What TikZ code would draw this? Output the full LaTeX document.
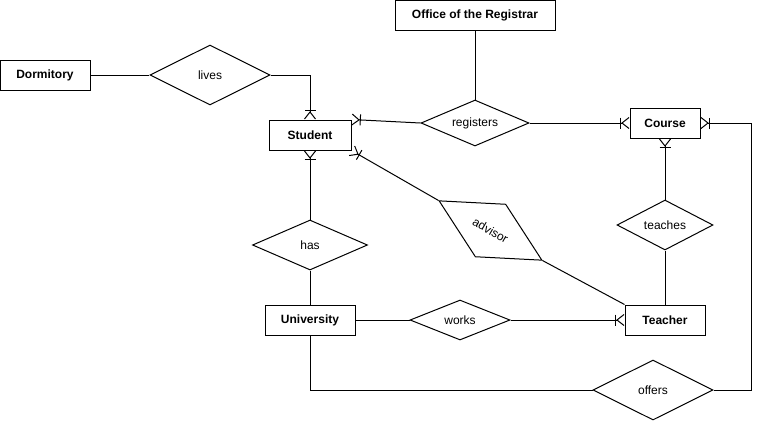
\documentclass[tikz,border=0pt]{standalone}
\usepackage{fontspec}
\setmainfont{Liberation Sans}
\usepackage{tikz}
\usetikzlibrary{positioning,arrows.meta,shapes.geometric,calc}
\tikzset{
  entity/.style={rectangle, draw=black, fill=white, line width=1pt,
    align=center, font=\fontsize{12}{14}\selectfont\bfseries, minimum height=30pt, inner sep=2pt},
  rel/.style={diamond, draw=black, fill=white, line width=1pt, shape aspect=2.3,
    align=center, font=\fontsize{12}{14}\selectfont, inner sep=0pt},
  link/.style={draw=black, line width=1pt},
  % one-or-many end (crow's foot with bar)
  many/.style={link, -{Bar[width=11pt,line width=1pt,sep=0pt]Straight Barb[reversed,length=7pt,width=11pt,line width=1pt]}},
}

\begin{document}
\begin{tikzpicture}[x=1pt, y=-1pt]
\useasboundingbox (0,0) rectangle (759,421);
% ---- entities ----
\node[entity, minimum width=90pt]  (dorm)    at (45,75)   {Dormitory};
\node[entity, minimum width=160pt] (office)  at (475,15.5) {Office of the Registrar};
\node[entity, minimum width=82pt]  (student) at (310,135) {Student};
\node[entity, minimum width=70pt]  (course)  at (665,123) {Course};
\node[entity, minimum width=90pt]  (univ)    at (310,320) {University};
\node[entity, minimum width=80pt]  (teacher) at (665,320) {Teacher};
% ---- relationships ----
\node[rel, minimum width=120pt, minimum height=60pt] (lives)     at (210,75)  {lives};
\node[rel, minimum width=108pt, minimum height=46pt] (registers) at (475,123) {registers};
\node[rel, minimum width=115pt, minimum height=50pt] (has)       at (310,245) {has};
\node[rel, minimum width=96pt,  minimum height=50pt] (teaches)   at (665,225) {teaches};
\node[rel, minimum width=100pt, minimum height=40pt] (works)     at (460,320) {works};
\node[rel, minimum width=120pt, minimum height=60pt] (offers)    at (653,390) {offers};
\node[rel, minimum width=119pt, minimum height=61pt, rotate=-30] (advisor) at (490.5,230.5) {advisor};
% ---- bend for offers ----
\coordinate (obend) at (751,390);
% ---- connectors ----
\draw[link] (dorm) -- (lives);
\draw[many] (lives.east) -| (student.north);
\draw[many] (registers.west) -- (student.north east);
\draw[many] (registers.east) -- (course.west);
\draw[link] (office) -- (registers);
\draw[many] (has.north) -- (student.south);
\draw[link] (has.south) -- (univ.north);
\draw[link] (univ) -- (works);
\draw[many] (works.east) -- (teacher.west);
\draw[link] (teacher.north) -- (teaches.south);
\draw[many] (teaches.north) -- (course.south);
\draw[link] (univ.south) |- (offers.west);
\draw[many] (offers.east) -- (obend) |- (course.east);
\draw[many] (advisor.west) -- (student.south east);
\draw[link] (advisor.east) -- (teacher.north west);
\end{tikzpicture}
\end{document}
